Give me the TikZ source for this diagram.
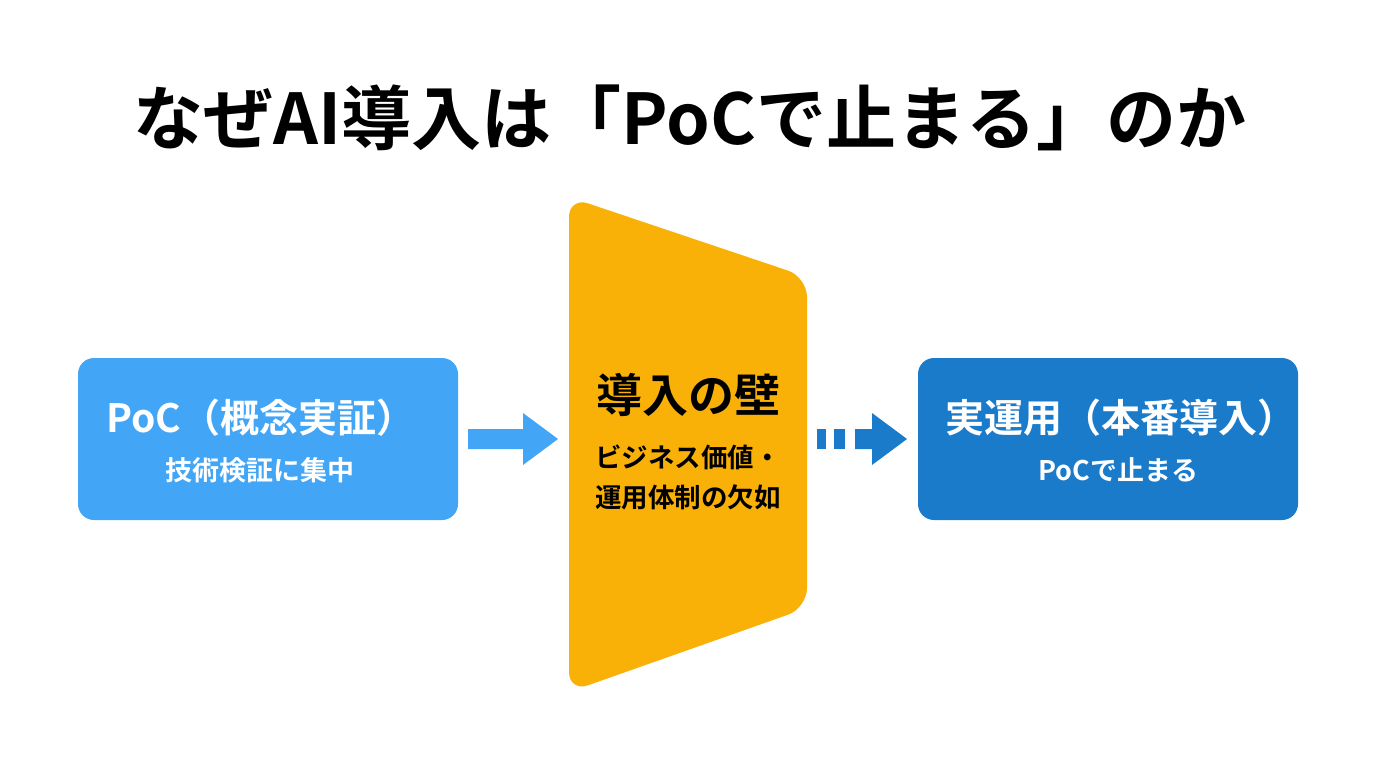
\documentclass[tikz,border=0pt]{standalone}
\usepackage{fontspec}
\newfontfamily\jp{Noto Sans CJK JP}[BoldFont={Noto Sans CJK JP Bold}]
\usetikzlibrary{positioning}
\definecolor{lblue}{HTML}{42A5F5}
\definecolor{dblue}{HTML}{1A7BCB}
\definecolor{wallc}{HTML}{FAB107}
\tikzset{
  box/.style={fill=#1, draw=none, rounded corners=16pt},
  maintxt/.style={text=white, font=\jp\bfseries\fontsize{39}{44}\selectfont},
  subtxt/.style={text=white, font=\jp\bfseries\fontsize{27}{32}\selectfont},
}
\begin{document}
\begin{tikzpicture}[x=1pt,y=-1pt]
\useasboundingbox[fill=white] (0,0) rectangle (1376,768);
% title
\node[font=\jp\bfseries\fontsize{70}{76}\selectfont, text=black] (title) at (690,118) {なぜAI導入は「PoCで止まる」のか};
% left box
\fill[box=lblue] (78,358) rectangle (458,520);
\node[maintxt] (l1) at (261,418) {PoC（概念実証）};
\node[subtxt] (l2) at (260,470) {技術検証に集中};
% arrow 1
\fill[lblue] (468,429) -- (523,429) -- (523,413) -- (558,439) -- (523,465) -- (523,449) -- (468,449) -- cycle;
% wall
\fill[wallc, rounded corners=20pt] (569,197) -- (807,277) -- (807,608) -- (569,692) -- cycle;
\node[font=\jp\bfseries\fontsize{46}{52}\selectfont] (w1) at (688,395) {導入の壁};
\node[font=\jp\bfseries\fontsize{26.5}{40}\selectfont, align=center] (w2) at (688,477) {ビジネス価値・\\運用体制の欠如};
% arrow 2 (dashed)
\fill[dblue] (817,429) rectangle (826,449);
\fill[dblue] (834,429) rectangle (845,449);
\fill[dblue] (855,429) -- (872,429) -- (872,413) -- (907,439) -- (872,465) -- (872,449) -- (855,449) -- cycle;
% right box
\fill[box=dblue] (918,358) rectangle (1298,520);
\node[maintxt] (r1) at (1121,418) {実運用（本番導入）};
\node[subtxt] (r2) at (1118,470) {PoCで止まる};
\end{tikzpicture}
\end{document}
